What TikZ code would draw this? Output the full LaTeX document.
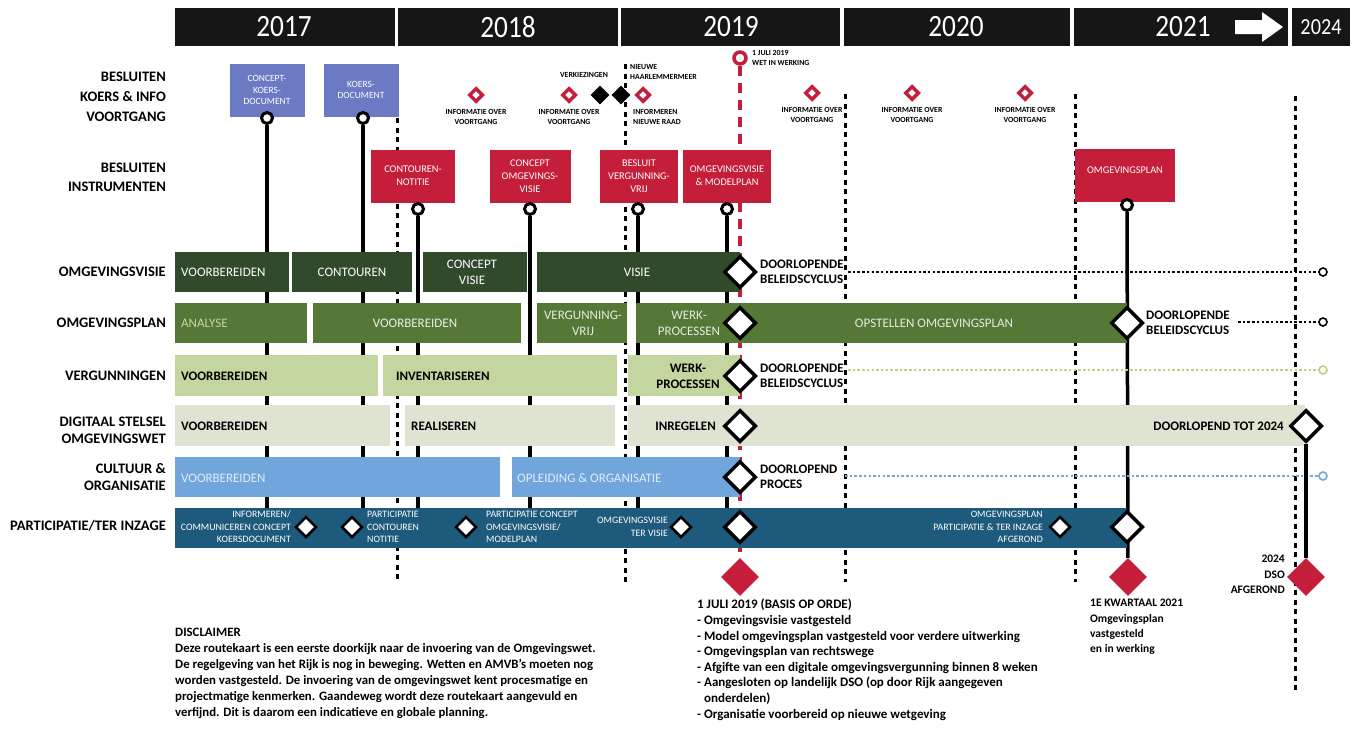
\documentclass[tikz,border=0pt]{standalone}
\usepackage{fontspec}
\setmainfont{Carlito}
\newfontfamily\cnd{Carlito}[FakeStretch=0.88]
\usetikzlibrary{shapes.geometric}
\definecolor{hdr}{RGB}{22,22,22}
\definecolor{koers}{RGB}{108,122,196}
\definecolor{instr}{RGB}{196,30,58}
\definecolor{visie}{RGB}{50,74,44}
\definecolor{plan}{RGB}{86,120,54}
\definecolor{verg}{RGB}{196,214,160}
\definecolor{vergdot}{RGB}{190,208,130}
\definecolor{dso}{RGB}{222,227,210}
\definecolor{cult}{RGB}{112,166,220}
\definecolor{part}{RGB}{30,90,124}
\tikzset{
  yr/.style={text=white,font=\cnd\fontsize{31}{31}\selectfont,inner sep=0},
  lbl/.style={font=\bfseries\fontsize{14.5}{20}\selectfont,align=right,anchor=east,inner sep=0},
  kbox/.style={fill=koers,text=white,font=\fontsize{9.5}{11.5}\selectfont,align=center,inner sep=0,minimum width=75pt,minimum height=53pt},
  ibox/.style={fill=instr,text=white,font=\fontsize{10.3}{13}\selectfont,align=center,inner sep=0,minimum height=53pt},
  bartxt/.style={font=\fontsize{13}{16}\selectfont,inner sep=0,align=center},
  darktxt/.style={font=\bfseries\fontsize{13}{16}\selectfont,inner sep=0,align=center,text=black},
  sidetxt/.style={font=\bfseries\fontsize{13}{15}\selectfont,inner sep=0,align=left,anchor=west},
  ptxt/.style={font=\fontsize{9.8}{12.5}\selectfont,text=white,inner sep=0},
  small/.style={font=\bfseries\fontsize{7.8}{9.5}\selectfont,inner sep=0,align=center},
  wd/.style={diamond,draw=black,fill=white,line width=3.5pt,minimum size=32pt,inner sep=0},
  sd/.style={diamond,draw=black,fill=white,line width=2.5pt,minimum size=21pt,inner sep=0},
  rd/.style={diamond,fill=instr,minimum size=38pt,inner sep=0},
  rhd/.style={diamond,draw=instr,fill=white,line width=3.5pt,minimum size=14pt,inner sep=0},
  bd/.style={diamond,fill=black,minimum size=19pt,inner sep=0},
  pin/.style={circle,draw=black,fill=white,line width=3pt,minimum size=11pt,inner sep=0},
  endc/.style={circle,draw,fill=white,line width=1.6pt,minimum size=8pt,inner sep=0},
  vline/.style={line width=3.5pt,black},
  yline/.style={line width=3pt,black,dash pattern=on 5pt off 4.5pt},
  rline/.style={line width=3.5pt,instr,dash pattern=on 10pt off 7pt},
  hdot/.style={line width=1.8pt,dash pattern=on 2.5pt off 2.2pt},
  btxt/.style={font=\bfseries\fontsize{13}{15.6}\selectfont,inner sep=0,align=left,anchor=north west}
}
\begin{document}
\begin{tikzpicture}[x=1pt,y=-1pt]
\useasboundingbox (0,0) rectangle (1357,729);
\fill[white] (0,0) rectangle (1357,729);
% header
\fill[hdr] (175,8) rectangle (395,46);
\fill[hdr] (398,8) rectangle (618,46);
\fill[hdr] (621,8) rectangle (840,46);
\fill[hdr] (844,8) rectangle (1070,46);
\fill[hdr] (1074,8) rectangle (1288,46);
\fill[hdr] (1292,8) rectangle (1350,46);
\node[yr] (y17) at (284,27) {2017};
\node[yr] (y18) at (508,27) {2018};
\node[yr] (y19) at (731,27) {2019};
\node[yr] (y20) at (956,27) {2020};
\node[yr] (y21) at (1183,27) {2021};
\node[yr,font=\cnd\fontsize{23}{23}\selectfont] (y24) at (1321,27) {2024};
\fill[white] (1235,20) -- (1262,20) -- (1262,12) -- (1283,27) -- (1262,42) -- (1262,34) -- (1235,34) -- cycle;
% left labels
\node[lbl] (l1) at (166,97) {BESLUITEN\\KOERS \& INFO\\VOORTGANG};
\node[lbl,font=\bfseries\fontsize{14.5}{19}\selectfont] (l2) at (166,177) {BESLUITEN\\INSTRUMENTEN};
\node[lbl] (l3) at (166,272) {OMGEVINGSVISIE};
\node[lbl] (l4) at (166,323) {OMGEVINGSPLAN};
\node[lbl] (l5) at (166,376) {VERGUNNINGEN};
\node[lbl,font=\bfseries\fontsize{14.5}{17}\selectfont] (l6) at (166,430) {DIGITAAL STELSEL\\OMGEVINGSWET};
\node[lbl,font=\bfseries\fontsize{14.5}{17}\selectfont] (l7) at (166,477) {CULTUUR \&\\ORGANISATIE};
\node[lbl] (l8) at (166,526) {PARTICIPATIE/TER INZAGE};
% year dashed lines
\coordinate (d1a) at (397,118); \coordinate (d1b) at (397,582);
\coordinate (d2a) at (625,64); \coordinate (d2b) at (625,582);
\coordinate (d3a) at (845,94); \coordinate (d3b) at (845,582);
\coordinate (d4a) at (1075,94); \coordinate (d4b) at (1075,582);
\coordinate (d5a) at (1295,96); \coordinate (d5b) at (1295,690);
\foreach \a/\b in {d1a/d1b,d2a/d2b,d3a/d3b,d4a/d4b,d5a/d5b} \draw[yline] (\a) -- (\b);
% red diamonds bottom and red ring with dashed line
\node[rd] (r1) at (740,577) {};
\node[rd] (r2) at (1128,577) {};
\node[circle,draw=instr,fill=white,line width=3.5pt,minimum size=12pt,inner sep=0] (ring) at (740,58) {};
\draw[rline] (ring) -- (r1);
% koers boxes
\node[kbox] (k1) at (267,90) {CONCEPT-\\KOERS-\\DOCUMENT};
\node[kbox] (k2) at (361,90) {KOERS-\\DOCUMENT};
\node[pin] (p1) at (267,118) {};
\node[pin] (p2) at (363,118) {};
% instrument boxes
\node[ibox,minimum width=84pt] (i1) at (413,176) {CONTOUREN-\\NOTITIE};
\node[ibox,minimum width=81pt] (i2) at (530,176) {CONCEPT\\OMGEVINGS-\\VISIE};
\node[ibox,minimum width=78pt] (i3) at (639,176) {BESLUIT\\VERGUNNING-\\VRIJ};
\node[ibox,minimum width=88pt] (i4) at (727,176) {OMGEVINGSVISIE\\\& MODELPLAN};
\node[ibox,minimum width=100pt,anchor=north] (i5) at (1125,149) {};
\node[text=white,font=\fontsize{10.3}{13}\selectfont,inner sep=0] (i5t) at (1125,170) {OMGEVINGSPLAN};
\node[pin] (p3) at (418,209) {};
\node[pin] (p4) at (530,209) {};
\node[pin] (p5) at (638,209) {};
\node[pin] (p6) at (727,209) {};
\node[pin] (p7) at (1127,205) {};
% line ends
\foreach \n/\x in {e1/267,e2/363,e3/418,e4/530,e5/638,e6/727} \coordinate (\n) at (\x,510);
\foreach \p/\e in {p1/e1,p2/e2,p3/e3,p4/e4,p5/e5,p6/e6} \draw[vline] (\p) -- (\e);
\draw[vline] (p7) -- (r2);
% bars
\fill[visie] (175,252) rectangle (289,292);
\fill[visie] (292,252) rectangle (412,292);
\fill[visie] (423,252) rectangle (527,292);
\fill[visie] (537,252) rectangle (740,292);
\fill[plan] (175,303) rectangle (307,343);
\fill[plan] (313,303) rectangle (521,343);
\fill[plan] (537,303) rectangle (627,343);
\fill[plan] (636,303) rectangle (1127,343);
\fill[verg] (175,355) rectangle (378,396);
\fill[verg] (383,355) rectangle (617,396);
\fill[verg] (628,355) rectangle (740,396);
\fill[dso] (175,405) rectangle (390,446);
\fill[dso] (405,405) rectangle (615,446);
\fill[dso] (628,405) rectangle (1305,446);
\fill[cult] (175,457) rectangle (500,497);
\fill[cult] (512,457) rectangle (740,497);
\fill[part] (175,508) rectangle (1127,548);
% bar texts
\node[bartxt,text=white,anchor=west] (t1) at (181,272) {VOORBEREIDEN};
\node[bartxt,text=white] (t2) at (352,272) {CONTOUREN};
\node[bartxt,text=white] (t3) at (472,272) {CONCEPT\\VISIE};
\node[bartxt,text=white] (t4) at (637,272) {VISIE};
\node[bartxt,text=verg,anchor=west] (t5) at (181,323) {ANALYSE};
\node[bartxt,text=white!88!plan] (t6) at (415,323) {VOORBEREIDEN};
\node[bartxt,text=white!85!plan] (t7) at (583,323) {VERGUNNING-\\VRIJ};
\node[bartxt,text=white!85!plan] (t8) at (689,323) {WERK-\\PROCESSEN};
\node[bartxt,text=white!85!plan] (t9) at (934,323) {OPSTELLEN OMGEVINGSPLAN};
\node[darktxt,anchor=west] (t10) at (181,376) {VOORBEREIDEN};
\node[darktxt,anchor=west] (t11) at (396,376) {INVENTARISEREN};
\node[darktxt] (t12) at (688,376) {WERK-\\PROCESSEN};
\node[darktxt,anchor=west] (t13) at (181,426) {VOORBEREIDEN};
\node[darktxt,anchor=west] (t14) at (411,426) {REALISEREN};
\node[darktxt,anchor=east] (t15) at (716,426) {INREGELEN};
\node[darktxt,anchor=east] (t16) at (1284,426) {DOORLOPEND TOT 2024};
\node[bartxt,text=white!80!cult,anchor=west] (t17) at (181,478) {VOORBEREIDEN};
\node[bartxt,text=white!80!cult,anchor=west] (t18) at (517,478) {OPLEIDING \& ORGANISATIE};
% participation texts and diamonds
\node[ptxt,align=right,anchor=east] (q1) at (291,527) {INFORMEREN/\\COMMUNICEREN CONCEPT\\KOERSDOCUMENT};
\node[sd] (s1) at (306,527) {};
\node[sd] (s2) at (352,527) {};
\node[ptxt,align=left,anchor=west] (q2) at (367,527) {PARTICIPATIE\\CONTOUREN\\NOTITIE};
\node[sd] (s3) at (466,527) {};
\node[ptxt,align=left,anchor=west] (q3) at (486,527) {PARTICIPATIE CONCEPT\\OMGEVINGSVISIE/\\MODELPLAN};
\node[ptxt,align=right,anchor=east] (q4) at (668,527) {OMGEVINGSVISIE\\TER VISIE};
\node[sd] (s4) at (681,527) {};
\node[ptxt,align=right,anchor=east] (q5) at (1043,527) {OMGEVINGSPLAN\\PARTICIPATIE \& TER INZAGE\\AFGEROND};
\node[sd] (s5) at (1060,527) {};
% dotted continuation lines
\node[endc,draw=black] (c1) at (1323,272) {};
\node[endc,draw=black] (c2) at (1323,322) {};
\node[endc,draw=vergdot] (c3) at (1323,370) {};
\node[endc,draw=cult] (c4) at (1323,476) {};
\coordinate (h1) at (848,272);
\coordinate (h2) at (1238,322);
\coordinate (h3) at (848,370);
\coordinate (h4) at (845,476);
\draw[hdot,black] (h1) -- (c1);
\draw[hdot,black] (h2) -- (c2);
\draw[hdot,vergdot] (h3) -- (c3);
\draw[hdot,cult] (h4) -- (c4);
% big diamonds
\node[wd] (w1) at (740,272) {};
\node[wd] (w2) at (740,323) {};
\node[wd] (w3) at (740,376) {};
\node[wd] (w4) at (740,426) {};
\node[wd] (w5) at (740,477) {};
\node[wd] (w6) at (740,527) {};
\node[wd] (w7) at (1127,323) {};
\node[wd] (w8) at (1127,527) {};
\node[wd] (w9) at (1306,426) {};
\node[rd] (r3) at (1306,577) {};
\draw[vline] (w9) -- (r3);
% side labels
\node[sidetxt] (sl1) at (760,272) {DOORLOPENDE\\BELEIDSCYCLUS};
\node[sidetxt] (sl2) at (1146,323) {DOORLOPENDE\\BELEIDSCYCLUS};
\node[sidetxt] (sl3) at (760,376) {DOORLOPENDE\\BELEIDSCYCLUS};
\node[sidetxt] (sl4) at (760,477) {DOORLOPEND\\PROCES};
% top row markers
\node[rhd] (m1) at (476,95) {};
\node[rhd] (m2) at (569,95) {};
\node[bd] (b1) at (600,95) {};
\node[bd] (b2) at (621,95) {};
\node[rhd] (m3) at (643,95) {};
\node[rhd] (m4) at (812,93) {};
\node[rhd] (m5) at (912,93) {};
\node[rhd] (m6) at (1025,93) {};
\node[small] (n1) at (476,117) {INFORMATIE OVER\\VOORTGANG};
\node[small] (n2) at (569,117) {INFORMATIE OVER\\VOORTGANG};
\node[small] (n3) at (812,115) {INFORMATIE OVER\\VOORTGANG};
\node[small] (n4) at (912,115) {INFORMATIE OVER\\VOORTGANG};
\node[small] (n5) at (1025,115) {INFORMATIE OVER\\VOORTGANG};
\node[small] (n6) at (584,75) {VERKIEZINGEN};
\node[small,align=left,anchor=west] (n7) at (630,72) {NIEUWE\\HAARLEMMERMEER};
\node[small,align=left,anchor=west] (n8) at (633,117) {INFORMEREN\\NIEUWE RAAD};
\node[small,align=left,anchor=west] (n9) at (752,58) {1 JULI 2019\\WET IN WERKING};
% bottom texts
\node[btxt] (bt1) at (697,599) {1 JULI 2019 (BASIS OP ORDE)\\
- Omgevingsvisie vastgesteld\\
- Model omgevingsplan vastgesteld voor verdere uitwerking\\
- Omgevingsplan van rechtswege\\
- Afgifte van een digitale omgevingsvergunning binnen 8 weken\\
- Aangesloten op landelijk DSO (op door Rijk aangegeven\\
\hphantom{- }onderdelen)\\
- Organisatie voorbereid op nieuwe wetgeving};
\node[btxt,font=\bfseries\fontsize{11.5}{15.3}\selectfont] (bt2) at (1090,599) {1E KWARTAAL 2021\\Omgevingsplan\\vastgesteld\\en in werking};
\node[btxt,font=\bfseries\fontsize{11.5}{15.3}\selectfont,align=right,anchor=north east] (bt3) at (1285,555) {2024\\DSO\\AFGEROND};
\node[btxt,font=\bfseries\fontsize{12.8}{16}\selectfont] (bt4) at (175,628) {DISCLAIMER\\
Deze routekaart is een eerste doorkijk naar de invoering van de Omgevingswet.\\
De regelgeving van het Rijk is nog in beweging. Wetten en AMVB's moeten nog\\
worden vastgesteld. De invoering van de omgevingswet kent procesmatige en\\
projectmatige kenmerken. Gaandeweg wordt deze routekaart aangevuld en\\
verfijnd. Dit is daarom een indicatieve en globale planning.};
\end{tikzpicture}
\end{document}
